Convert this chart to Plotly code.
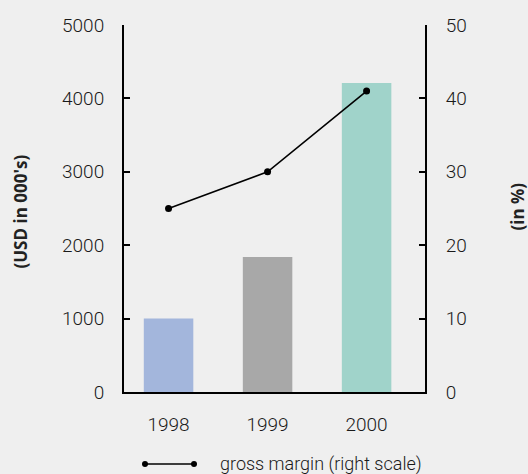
import plotly.graph_objects as go

years = ["1998", "1999", "2000"]
revenue = [1000, 1840, 4210]          # USD in 000's (left scale)
gross_margin = [25, 30, 41]           # in % (right scale)
bar_colors = ["#a3b6dc", "#a8a8a8", "#a0d3ca"]
left_ticks = [0, 1000, 2000, 3000, 4000, 5000]
right_ticks = [0, 10, 20, 30, 40, 50]

FONT = "Roboto"
BG = "#efefef"
TICKFONT = dict(family=FONT, size=19, color="#1a1a1a", weight=300)

fig = go.Figure()
fig.add_trace(go.Bar(x=years, y=revenue, marker_color=bar_colors, width=0.5,
                     showlegend=False, marker_line_width=0))
fig.add_trace(go.Scatter(x=years, y=gross_margin, yaxis="y2", mode="lines+markers",
                         line=dict(color="black", width=1.6),
                         marker=dict(color="black", size=7),
                         showlegend=False, name="gross margin (right scale)"))

axis_common = dict(showgrid=False, zeroline=False, showline=True, linecolor="black",
                   linewidth=2, ticks="inside", ticklen=6, tickwidth=2, tickcolor="black",
                   tickfont=TICKFONT)

fig.update_layout(
    width=528, height=474,
    margin=dict(l=124, r=103, t=25, b=82),
    paper_bgcolor=BG, plot_bgcolor=BG,
    bargap=0.5,
    xaxis=dict(type="category", range=[-0.45, 2.59], showgrid=False, zeroline=False,
               showline=True, linecolor="black", linewidth=2, ticks="",
               tickfont=TICKFONT, ticklabelstandoff=14),
    yaxis=dict(range=[0, 5000], tickvals=left_ticks, ticklabelstandoff=14, **axis_common),
    yaxis2=dict(range=[0, 50], tickvals=right_ticks, overlaying="y", side="right",
                ticklabelstandoff=15, **axis_common),
    showlegend=False,
)

title_font = dict(family="Open Sans", size=17, color="#222", weight=700)
fig.add_annotation(text="(USD in 000's)", xref="paper", yref="paper", x=0, y=0.5,
                   xshift=-104, yshift=-3, textangle=-90, showarrow=False, font=title_font,
                   xanchor="center", yanchor="middle")
fig.add_annotation(text="(in %)", xref="paper", yref="paper", x=1, y=0.5,
                   xshift=92, yshift=2, textangle=-90, showarrow=False, font=title_font,
                   xanchor="center", yanchor="middle")

# legend (drawn manually to match the reference's symbol)
leg_y = -72 / 367  # paper units below plot
x0 = (145 - 124) / 301
x1 = (194 - 124) / 301
fig.add_shape(type="line", xref="paper", yref="paper", x0=x0, x1=x1, y0=leg_y, y1=leg_y,
              line=dict(color="black", width=1.6))
for xx in (x0, x1):
    fig.add_shape(type="circle", xref="paper", yref="paper",
                  x0=xx - 3 / 301, x1=xx + 3 / 301, y0=leg_y - 3 / 367, y1=leg_y + 3 / 367,
                  fillcolor="black", line=dict(color="black", width=0))
fig.add_annotation(text="gross margin (right scale)", xref="paper", yref="paper",
                   x=(218 - 124) / 301, y=leg_y, xanchor="left", yanchor="middle",
                   showarrow=False, font=dict(family=FONT, size=18, color="#1a1a1a", weight=300))

fig.write_html("out.html", config={"displayModeBar": False})
